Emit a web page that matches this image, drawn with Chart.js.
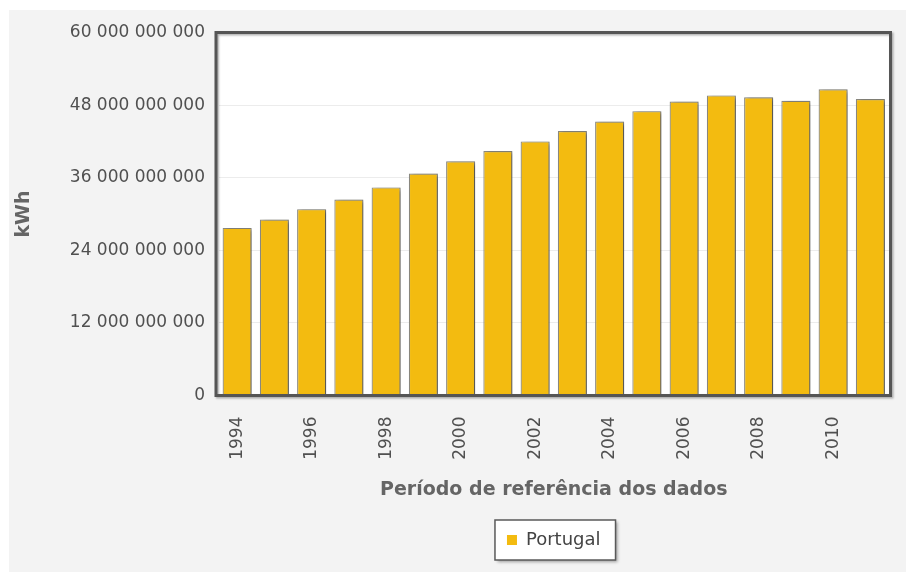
<!DOCTYPE html>
<html lang="pt">
<head>
    <meta charset="UTF-8">
    <title>Consumo de energia eléctrica - Portugal</title>
    <script src="https://cdn.jsdelivr.net/npm/chart.js"></script>
    <style>
        body { margin: 0; background: #fff; }
        canvas { display: block; }
    </style>
</head>
<body>
    <canvas id="consumo" width="908" height="573"></canvas>
    <script>
        // Consumo anual (kWh)
        const anos = ['1994', '1995', '1996', '1997', '1998', '1999', '2000', '2001', '2002',
                      '2003', '2004', '2005', '2006', '2007', '2008', '2009', '2010', '2011'];
        const consumoPortugal = [27.7e9, 29.1e9, 30.8e9, 32.4e9, 34.4e9, 36.7e9, 38.7e9, 40.4e9, 42.0e9,
                                 43.7e9, 45.3e9, 47.0e9, 48.6e9, 49.6e9, 49.3e9, 48.7e9, 50.6e9, 49.0e9];
        const eixoY = { min: 0, max: 60e9, passo: 12e9 };

        const FONTE = 'DejaVu Sans';

        function milhares(v) {
            return String(v).replace(/\B(?=(\d{3})+(?!\d))/g, ' ');
        }

        // fundo cinzento, área do gráfico, caixa da legenda e moldura
        const moldura = {
            id: 'moldura',
            beforeDraw(chart) {
                const { ctx, chartArea: a } = chart;
                ctx.save();
                ctx.fillStyle = '#ffffff';
                ctx.fillRect(0, 0, chart.width, chart.height);
                ctx.fillStyle = '#f3f3f3';
                ctx.fillRect(9, 10, 897, 562);
                ctx.fillStyle = '#ffffff';
                ctx.fillRect(a.left - 2.5, a.top, a.right - a.left + 4, a.bottom - a.top);

                const hb = chart.legend && chart.legend.legendHitBoxes[0];
                if (hb) {
                    const x = hb.left - 12, y = hb.top - 11, w = hb.width + 27, h = hb.height + 22;
                    ctx.shadowColor = 'rgba(0,0,0,0.35)';
                    ctx.shadowBlur = 3;
                    ctx.shadowOffsetX = 2;
                    ctx.shadowOffsetY = 2;
                    ctx.fillStyle = '#ffffff';
                    ctx.fillRect(x, y, w, h);
                    ctx.shadowColor = 'transparent';
                    ctx.strokeStyle = '#5a5a5a';
                    ctx.lineWidth = 1.5;
                    ctx.strokeRect(x, y, w, h);
                }
                ctx.restore();
            },
            beforeDatasetsDraw(chart) {
                const ctx = chart.ctx;
                ctx.save();
                ctx.shadowColor = 'rgba(0,0,0,0.4)';
                ctx.shadowBlur = 4;
                ctx.shadowOffsetX = 3;
                ctx.shadowOffsetY = 1;
            },
            afterDatasetsDraw(chart) {
                const { ctx, chartArea: a } = chart;
                ctx.restore();
                ctx.save();
                ctx.shadowColor = 'rgba(0,0,0,0.3)';
                ctx.shadowBlur = 2;
                ctx.shadowOffsetX = 1.5;
                ctx.shadowOffsetY = 1.5;
                ctx.strokeStyle = '#555555';
                ctx.lineWidth = 3;
                ctx.strokeRect(a.left - 2.5, a.top, a.right - a.left + 4, a.bottom - a.top);
                ctx.restore();
            }
        };

        new Chart(document.getElementById('consumo'), {
            type: 'bar',
            data: {
                labels: anos,
                datasets: [{
                    label: 'Portugal',
                    data: consumoPortugal,
                    backgroundColor: '#f3bb10',
                    borderColor: '#8c8a80',
                    borderWidth: 1.2,
                    barPercentage: 0.78,
                    categoryPercentage: 1
                }]
            },
            options: {
                responsive: false,
                animation: false,
                devicePixelRatio: 1,
                layout: { padding: { left: 9, top: 32.5, right: 19, bottom: 14 } },
                scales: {
                    x: {
                        grid: { display: false },
                        border: { display: false },
                        ticks: {
                            autoSkip: false,
                            minRotation: 90,
                            maxRotation: 90,
                            padding: 13,
                            color: '#505050',
                            font: { family: FONTE, size: 17 },
                            callback: function (v, i) {
                                return i % 2 === 0 ? this.getLabelForValue(v) : '';
                            }
                        },
                        title: {
                            display: true,
                            text: 'Período de referência dos dados',
                            color: '#656565',
                            font: { family: FONTE, size: 19, weight: 'bold' },
                            padding: { top: 0, bottom: 20 }
                        },
                        afterFit(s) { s.height = 125.5; }
                    },
                    y: {
                        min: eixoY.min,
                        max: eixoY.max,
                        border: { display: false },
                        grid: { color: '#ececec', drawTicks: false },
                        ticks: {
                            stepSize: eixoY.passo,
                            padding: 13.5,
                            color: '#505050',
                            font: { family: FONTE, size: 17 },
                            callback: v => milhares(v)
                        },
                        title: {
                            display: true,
                            text: 'kWh',
                            color: '#656565',
                            font: { family: FONTE, size: 19, weight: 'bold' },
                            padding: { top: 4, bottom: 0 }
                        },
                        afterFit(s) { s.width = 209.5; }
                    }
                },
                plugins: {
                    legend: {
                        position: 'bottom',
                        fullSize: false,
                        labels: {
                            usePointStyle: true,
                            pointStyle: 'rect',
                            boxWidth: 10,
                            boxHeight: 10,
                            padding: 10,
                            color: '#444444',
                            font: { family: FONTE, size: 18 },
                            generateLabels: chart => Chart.defaults.plugins.legend.labels.generateLabels(chart)
                                .map(l => Object.assign(l, { lineWidth: 0, strokeStyle: 'rgba(0,0,0,0)' }))
                        }
                    },
                    tooltip: { enabled: false }
                }
            },
            plugins: [moldura]
        });
    </script>
</body>
</html>
